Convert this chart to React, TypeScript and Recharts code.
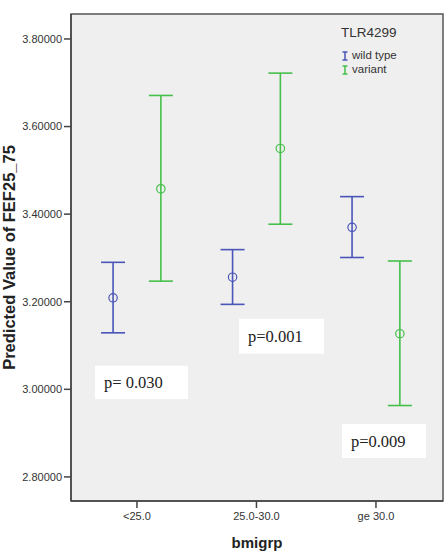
import React from 'react';
import {
  ComposedChart,
  Scatter,
  ErrorBar,
  XAxis,
  YAxis,
  ReferenceArea,
} from 'recharts';

// ---- data ----
const categories = ['<25.0', '25.0-30.0', 'ge 30.0'];
const seriesNames = ['wild type', 'variant'];
const wildMean = [3.209, 3.256, 3.37];
const wildLow = [3.129, 3.194, 3.301];
const wildHigh = [3.29, 3.319, 3.44];
const variantMean = [3.458, 3.55, 3.127];
const variantLow = [3.247, 3.377, 2.963];
const variantHigh = [3.671, 3.722, 3.293];
const yTicks = [2.8, 3.0, 3.2, 3.4, 3.6, 3.8];
const pLabels = ['p= 0.030', 'p=0.001', 'p=0.009'];

// ---- layout constants ----
const BLUE = '#4a55b8';
const GREEN = '#45c04a';
const X_DOMAIN: [number, number] = [-0.552, 2.561];
const Y_DOMAIN: [number, number] = [2.745, 3.857];
const GROUP_OFFSET = 0.2;
// annotation boxes placement in data units: [x1, x2, y1, y2]
const pBoxes: [number, number, number, number][] = [
  [-0.351, 0.427, 2.978, 3.054],
  [0.854, 1.565, 3.081, 3.161],
  [1.715, 2.418, 2.843, 2.921],
];

const makeSeries = (mean: number[], low: number[], high: number[], off: number) =>
  mean.map((m, i) => ({ x: i + off, y: m, err: [m - low[i], high[i] - m] }));

const wildData = makeSeries(wildMean, wildLow, wildHigh, -GROUP_OFFSET);
const variantData = makeSeries(variantMean, variantLow, variantHigh, GROUP_OFFSET);

const circleShape = (color: string) => (props: any) => {
  const { cx, cy } = props;
  if (cx == null || cy == null) return <g />;
  return <circle cx={cx} cy={cy} r={4.2} fill="none" stroke={color} strokeWidth={1.2} />;
};

const tickStyle = { fontFamily: '"Liberation Sans", Arial, sans-serif', fontSize: 11, fill: '#333' };

const PLabel = (text: string) => (props: any) => {
  const vb = props.viewBox || {};
  return (
    <text
      x={vb.x + 9}
      y={vb.y + vb.height / 2}
      textAnchor="start"
      dominantBaseline="central"
      fontFamily='"Liberation Serif", "Times New Roman", serif'
      fontSize={16.5}
      fill="#222"
    >
      {text}
    </text>
  );
};

const LegendIcon = ({ color }: { color: string }) => (
  <svg width={8} height={10} style={{ display: 'inline-block', verticalAlign: 'middle', marginRight: 3 }}>
    <line x1={1.5} y1={1} x2={6.5} y2={1} stroke={color} strokeWidth={1.5} />
    <line x1={4} y1={1} x2={4} y2={9} stroke={color} strokeWidth={1.5} />
    <line x1={1.5} y1={9} x2={6.5} y2={9} stroke={color} strokeWidth={1.5} />
  </svg>
);

export default function App() {
  const colors = [BLUE, GREEN];
  return (
    <div style={{ position: 'absolute', left: 0, top: 0, width: 448, height: 552, background: '#fff' }}>
      <ComposedChart
        width={448}
        height={552}
        margin={{ top: 14, right: 5, bottom: 0, left: 0 }}
      >
        <XAxis
          type="number"
          dataKey="x"
          domain={X_DOMAIN}
          ticks={[0, 1, 2]}
          allowDataOverflow
          height={51}
          tickFormatter={(v: number) => categories[Math.round(v)]}
          tick={tickStyle}
          tickSize={7}
          tickMargin={4}
          axisLine={{ stroke: '#444', strokeWidth: 1.5 }}
          tickLine={{ stroke: '#444', strokeWidth: 1.5 }}
          label={{
            value: 'bmigrp',
            position: 'insideBottom',
            offset: 4,
            style: { fontFamily: '"Liberation Sans", Arial, sans-serif', fontSize: 15, fontWeight: 'bold', fill: '#222' },
          }}
        />
        <YAxis
          type="number"
          domain={Y_DOMAIN}
          ticks={yTicks}
          allowDataOverflow
          width={71}
          tickFormatter={(v: number) => v.toFixed(5)}
          tick={tickStyle}
          tickSize={7}
          tickMargin={2}
          axisLine={{ stroke: '#444', strokeWidth: 1.5 }}
          tickLine={{ stroke: '#444', strokeWidth: 1.5 }}
          label={{
            value: 'Predicted Value of FEF25_75',
            angle: -90,
            position: 'insideLeft',
            offset: 9,
            style: {
              textAnchor: 'middle',
              fontFamily: '"Liberation Sans", Arial, sans-serif',
              fontSize: 16.5,
              fontWeight: 'bold',
              fill: '#222',
            },
          }}
        />
        <ReferenceArea
          x1={X_DOMAIN[0]}
          x2={X_DOMAIN[1]}
          y1={Y_DOMAIN[0]}
          y2={Y_DOMAIN[1]}
          fill="#efefef"
          fillOpacity={1}
          stroke="#555"
          strokeWidth={1.5}
          ifOverflow="visible"
        />
        {pBoxes.map((b, i) => (
          <ReferenceArea
            key={i}
            x1={b[0]}
            x2={b[1]}
            y1={b[2]}
            y2={b[3]}
            fill="#ffffff"
            fillOpacity={1}
            stroke="none"
            label={PLabel(pLabels[i])}
          />
        ))}
        <Scatter
          name={seriesNames[0]}
          data={wildData}
          dataKey="y"
          isAnimationActive={false}
          shape={circleShape(BLUE)}
        >
          <ErrorBar dataKey="err" direction="y" width={12} stroke={BLUE} strokeWidth={1.6} />
        </Scatter>
        <Scatter
          name={seriesNames[1]}
          data={variantData}
          dataKey="y"
          isAnimationActive={false}
          shape={circleShape(GREEN)}
        >
          <ErrorBar dataKey="err" direction="y" width={12} stroke={GREEN} strokeWidth={1.6} />
        </Scatter>
      </ComposedChart>
      <div
        style={{
          position: 'absolute',
          left: 341,
          top: 26,
          fontFamily: '"Liberation Sans", Arial, sans-serif',
          color: '#333',
          lineHeight: 1,
        }}
      >
        <div style={{ fontSize: 13.5, marginBottom: 9 }}>TLR4299</div>
        {seriesNames.map((n, i) => (
          <div key={n} style={{ fontSize: 11.5, height: 14, display: 'flex', alignItems: 'center' }}>
            <LegendIcon color={colors[i]} />
            <span>{n}</span>
          </div>
        ))}
      </div>
    </div>
  );
}
